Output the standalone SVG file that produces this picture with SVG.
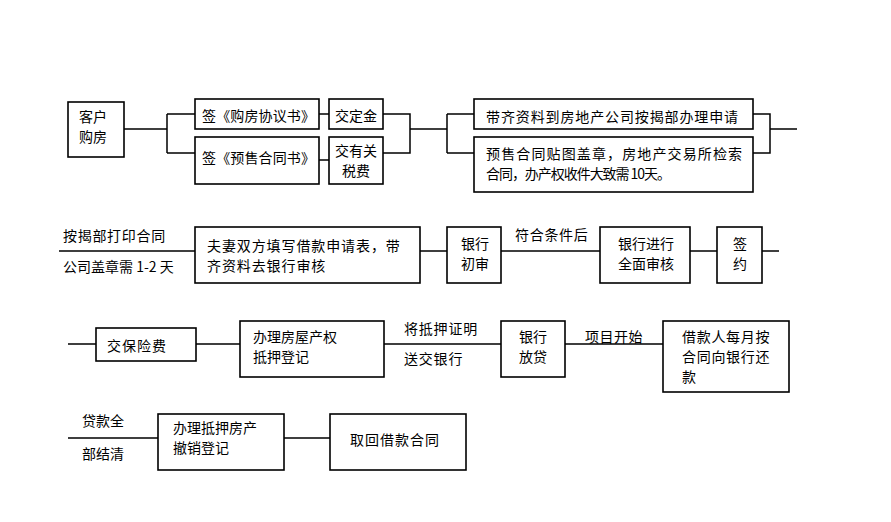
<svg xmlns="http://www.w3.org/2000/svg" width="891" height="522" viewBox="0 0 891 522">
<style>
.box{fill:#fff;stroke:#000;stroke-width:1.6}
.ln{fill:none;stroke:#000;stroke-width:1.5}
text{font-family:"Noto Sans CJK SC","Liberation Sans",sans-serif;font-size:14px;fill:#000}
.m{text-anchor:middle}
</style>
<rect width="891" height="522" fill="#fff"/>
<g id="connectors">
<path class="ln" d="M124,129H167M167,114V153M167,114H195M167,153H195"/>
<path class="ln" d="M319,114H329M319,160H329"/>
<path class="ln" d="M383,114H410V153H383M410,129H447M447,114V153M447,114H474M447,153H474"/>
<path class="ln" d="M753,114H770V153H753M770,129H797"/>
<path class="ln" d="M59,251H195M420,251H447M501,251H600M690,251H717M762,251H779"/>
<path class="ln" d="M68,344H96M196,344H240M384,344H501M565,344H663"/>
<path class="ln" d="M68,438H158M284,438H330"/>
</g>
<g id="n1"><rect class="box" x="68" y="102" width="56" height="55"/><text x="79" y="122">客户</text><text x="79" y="142">购房</text></g>
<g id="n2"><rect class="box" x="195" y="99" width="124" height="30"/><text x="202" y="121" textLength="113" lengthAdjust="spacing">签《购房协议书》</text></g>
<g id="n3"><rect class="box" x="195" y="137" width="124" height="47"/><text x="202" y="163" textLength="113" lengthAdjust="spacing">签《预售合同书》</text></g>
<g id="n4"><rect class="box" x="329" y="99" width="54" height="30"/><text class="m" x="356" y="121">交定金</text></g>
<g id="n5"><rect class="box" x="329" y="137" width="54" height="47"/><text class="m" x="356" y="156">交有关</text><text class="m" x="356" y="176">税费</text></g>
<g id="n6"><rect class="box" x="474" y="99" width="279" height="30"/><text x="486" y="122" textLength="252" lengthAdjust="spacing">带齐资料到房地产公司按揭部办理申请</text></g>
<g id="n7"><rect class="box" x="474" y="137" width="279" height="55"/><text x="486" y="159" textLength="256" lengthAdjust="spacing">预售合同贴图盖章，房地产交易所检索</text><text x="486" y="179" textLength="185" lengthAdjust="spacing">合同，办产权收件大致需&#160;10天。</text></g>
<g id="l1"><text x="63" y="241" letter-spacing="0.7">按揭部打印合同</text><text x="63" y="272">公司盖章需 1-2 天</text></g>
<g id="n8"><rect class="box" x="195" y="227" width="225" height="56"/><text x="207" y="251" letter-spacing="0.9">夫妻双方填写借款申请表，带</text><text x="207" y="271" letter-spacing="0.9">齐资料去银行审核</text></g>
<g id="n9"><rect class="box" x="447" y="227" width="54" height="56"/><text class="m" x="475" y="249">银行</text><text class="m" x="475" y="269">初审</text></g>
<g id="l2"><text x="515" y="240" letter-spacing="0.7">符合条件后</text></g>
<g id="n10"><rect class="box" x="600" y="227" width="90" height="56"/><text class="m" x="646" y="249">银行进行</text><text class="m" x="646" y="269">全面审核</text></g>
<g id="n11"><rect class="box" x="717" y="227" width="45" height="56"/><text class="m" x="740" y="249">签</text><text class="m" x="740" y="269">约</text></g>
<g id="n12"><rect class="box" x="96" y="328" width="100" height="33"/><text x="107" y="351" letter-spacing="1">交保险费</text></g>
<g id="n13"><rect class="box" x="240" y="321" width="144" height="56"/><text x="253" y="342">办理房屋产权</text><text x="253" y="362">抵押登记</text></g>
<g id="l3"><text x="404" y="334" letter-spacing="0.8">将抵押证明</text><text x="404" y="364" letter-spacing="0.8">送交银行</text></g>
<g id="n14"><rect class="box" x="501" y="321" width="64" height="56"/><text class="m" x="533" y="342">银行</text><text class="m" x="533" y="362">放贷</text></g>
<g id="l4"><text x="585" y="342" letter-spacing="0.5">项目开始</text></g>
<g id="n15"><rect class="box" x="663" y="321" width="126" height="71"/><text x="682" y="342" letter-spacing="0.7">借款人每月按</text><text x="682" y="362" letter-spacing="0.7">合同向银行还</text><text x="682" y="382">款</text></g>
<g id="l5"><text x="82" y="426">贷款全</text><text x="82" y="459">部结清</text></g>
<g id="n16"><rect class="box" x="158" y="414" width="126" height="56"/><text x="173" y="433">办理抵押房产</text><text x="173" y="453">撤销登记</text></g>
<g id="n17"><rect class="box" x="330" y="414" width="136" height="56"/><text x="350" y="445" letter-spacing="1">取回借款合同</text></g>
</svg>
